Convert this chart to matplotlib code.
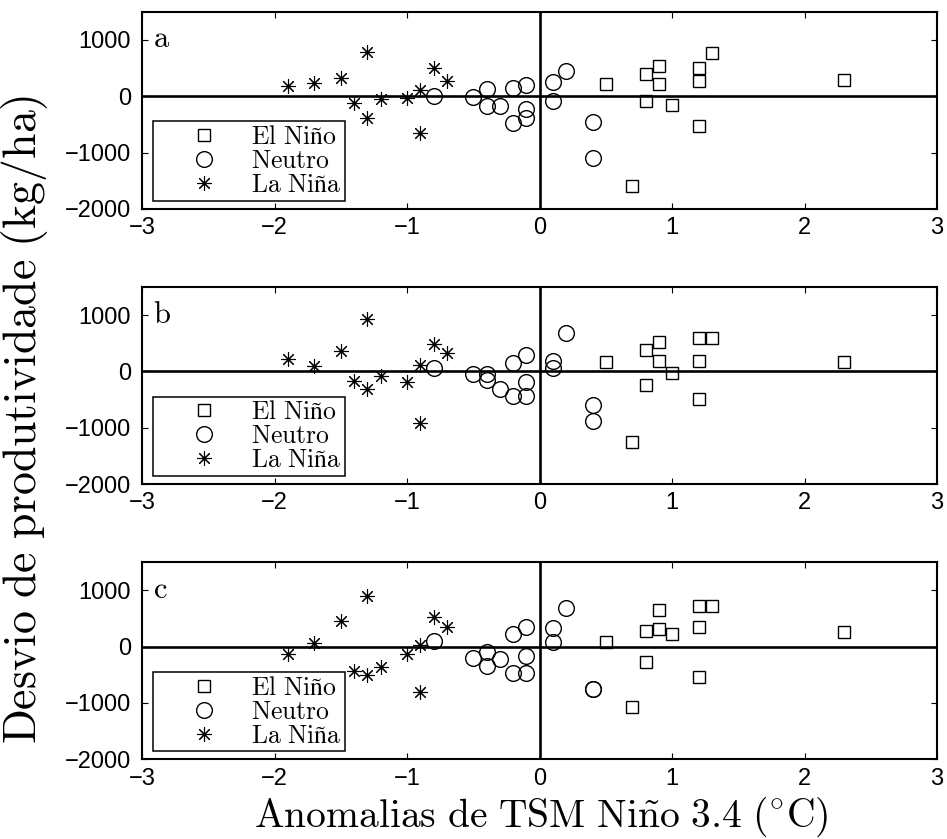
import numpy as np
import matplotlib
matplotlib.use("Agg")
import matplotlib.pyplot as plt

plt.rcParams['font.family'] = ['Liberation Sans', 'DejaVu Sans']
plt.rcParams['mathtext.fontset'] = 'cm'

# anomalias de TSM (x) e desvios de produtividade (y) por fase do ENOS
x_nino = [0.5, 0.7, 0.8, 0.8, 0.9, 0.9, 1.0, 1.2, 1.2, 1.2, 1.3, 2.3]
x_neutro = [-0.8, -0.5, -0.4, -0.4, -0.3, -0.2, -0.2, -0.1, -0.1, -0.1,
            0.1, 0.1, 0.2, 0.4, 0.4]
x_nina = [-1.9, -1.7, -1.5, -1.4, -1.3, -1.3, -1.2, -1.0, -0.9, -0.9, -0.8, -0.7]

# painel a
ya_nino = [214, -1600, 397, -82, 545, 214, -152, 498, 273, -537, 764, 291]
ya_neutro = [10, -17, 131, -170, -170, 140, -470, 205, -225, -380,
             253, -88, 442, -466, -1103]
ya_nina = [184, 232, 332, -123, 782, -389, -50, -30, 113, -655, 498, 273]

# painel b
yb_nino = [160, -1250, 373, -238, 526, 189, -24, 586, 189, -487, 592, 160]
yb_neutro = [53, -45, -45, -154, -314, 150, -430, 290, -195, -440,
             183, 53, 675, -604, -877]
yb_nina = [218, 94, 361, -172, 923, -320, -83, -196, 112, -912, 479, 331]

# painel c
yc_nino = [78, -1077, 277, -265, 648, 312, 219, 724, 353, -540, 724, 265]
yc_neutro = [106, -205, -88, -341, -223, 224, -470, 340, -160, -460,
             336, 88, 678, -750, -760]
yc_nina = [-129, 60, 459, -441, 900, -512, -353, -134, 30, -805, 519, 353]

paineis = [('a', ya_nino, ya_neutro, ya_nina),
           ('b', yb_nino, yb_neutro, yb_nina),
           ('c', yc_nino, yc_neutro, yc_nina)]

fig = plt.figure(figsize=(9.47, 8.39), dpi=100)
bottoms = [0.751, 0.423, 0.095]
height = 0.235
left, width = 0.15, 0.8395

asterisco = (8, 2, 0)

for (letra, y_nino, y_neutro, y_nina), b in zip(paineis, bottoms):
    ax = fig.add_axes([left, b, width, height])
    ax.axhline(0, color='k', lw=1.9, zorder=1)
    ax.axvline(0, color='k', lw=1.9, zorder=1)
    ax.plot(x_nino, y_nino, 's', ms=8.8, mfc='none', mec='k', mew=1.0,
            label=r'$\mathrm{El\ Niño}$', zorder=3)
    ax.plot(x_neutro, y_neutro, 'o', ms=11.3, mfc='none', mec='k', mew=1.0,
            label=r'$\mathrm{Neutro}$', zorder=3)
    ax.plot(x_nina, y_nina, ls='none', marker=asterisco, ms=10.5, mec='k', mew=0.8,
            label=r'$\mathrm{La\ Niña}$', zorder=3)
    ax.set_xlim(-3, 3)
    ax.set_ylim(-2000, 1500)
    ax.set_xticks([-3, -2, -1, 0, 1, 2, 3])
    ax.set_yticks([-2000, -1000, 0, 1000])
    ax.tick_params(direction='in', length=4.5, width=0.8, top=True, right=True,
                   labelsize=17)
    ax.tick_params(axis='y', pad=8)
    ax.tick_params(axis='x', pad=6)
    for s in ax.spines.values():
        s.set_linewidth(1.5)
    ax.text(0.014, 0.86, r'$\mathrm{%s}$' % letra, transform=ax.transAxes,
            fontsize=22, va='center', ha='left')
    leg = ax.legend(loc='lower left', bbox_to_anchor=(0.0138, 0.04),
                    borderaxespad=0, fontsize=18.5, frameon=True, fancybox=False,
                    framealpha=1, edgecolor='k', labelspacing=0.0,
                    handlelength=3.66, handletextpad=0.0, borderpad=0.15)
    leg.get_frame().set_linewidth(1.1)

fig.text(0.026, 0.5, r'$\mathrm{Desvio\ de\ produtividade\ (kg/ha)}$',
         rotation=90, va='center', ha='center', fontsize=33)
fig.text(0.572, 0.026, r'$\mathrm{Anomalias\ de\ TSM\ Ni\tilde{n}o\ 3.4\ (^{\circ}C)}$',
         va='center', ha='center', fontsize=28.5)

fig.savefig('out.png', dpi=100)
